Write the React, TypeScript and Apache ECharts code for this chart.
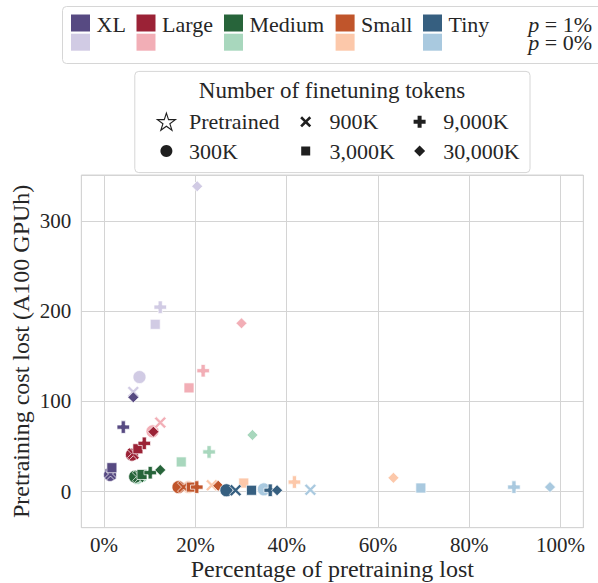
import React, { useEffect, useRef } from 'react';
import * as echarts from 'echarts';

const FONT = 'Liberation Serif';
const TEXT = '#262626';
const GRID = '#d4d4d4';

const MODELS = ['XL', 'Large', 'Medium', 'Small', 'Tiny'];
const DARK = ['#574a82', '#9b2236', '#27643a', '#c0552b', '#365f80'];
const LIGHT = ['#d1cbe4', '#f2aeb6', '#a8d7bd', '#fcc8aa', '#a9c9df'];
const TOKENS = ['300K', '900K', '3,000K', '9,000K', '30,000K'];
const TOKEN_LEGEND = ['Pretrained', '300K', '900K', '3,000K', '9,000K', '30,000K'];
const P_LABELS = ['1%', '0%'];

// Percentage of pretraining lost / pretraining cost lost, per token budget
// order: 300K, 900K, 3,000K, 9,000K, 30,000K
const XL_P1_PCT = [1.3, 1.4, 1.7, 4.2, 6.4];
const XL_P1_COST = [18.5, 19.5, 26.5, 71.5, 104.5];
const XL_P0_PCT = [7.75, 6.4, 11.2, 12.3, 20.4];
const XL_P0_COST = [127, 110.5, 185.5, 204.5, 338.5];

const LARGE_P1_PCT = [6.1, 6.4, 7.4, 8.8, 10.8];
const LARGE_P1_COST = [41, 42, 47.5, 53.5, 66.4];
const LARGE_P0_PCT = [10.6, 12.3, 18.6, 21.7, 30.1];
const LARGE_P0_COST = [66.8, 76.5, 115, 134, 186.6];

const MEDIUM_P1_PCT = [6.8, 7.5, 8.3, 10.1, 12.3];
const MEDIUM_P1_COST = [16.5, 16.5, 19, 21, 24];
const MEDIUM_P0_PCT = [7.2, 8.0, 16.9, 23.0, 32.5];
const MEDIUM_P0_COST = [15, 17, 32.9, 44, 62.8];

const SMALL_P1_PCT = [16.3, 17.4, 19.1, 20.3, 25.0];
const SMALL_P1_COST = [5, 5, 5, 5, 6.5];
const SMALL_P0_PCT = [18.5, 23.6, 30.6, 41.7, 63.4];
const SMALL_P0_COST = [5, 7, 9.5, 10.6, 15.3];

const TINY_P1_PCT = [26.8, 28.8, 32.3, 36.4, 37.9];
const TINY_P1_COST = [1.5, 1.5, 1.5, 1.5, 1.5];
const TINY_P0_PCT = [35.0, 45.2, 69.4, 89.8, 97.7];
const TINY_P0_COST = [2.5, 2, 4, 5, 5];

const P1_SETS = [
  [XL_P1_PCT, XL_P1_COST],
  [LARGE_P1_PCT, LARGE_P1_COST],
  [MEDIUM_P1_PCT, MEDIUM_P1_COST],
  [SMALL_P1_PCT, SMALL_P1_COST],
  [TINY_P1_PCT, TINY_P1_COST],
];
const P0_SETS = [
  [XL_P0_PCT, XL_P0_COST],
  [LARGE_P0_PCT, LARGE_P0_COST],
  [MEDIUM_P0_PCT, MEDIUM_P0_COST],
  [SMALL_P0_PCT, SMALL_P0_COST],
  [TINY_P0_PCT, TINY_P0_COST],
];

// unit shapes (0..6 box)
const X_PTS = [[0, 1], [1, 0], [3, 2], [5, 0], [6, 1], [4, 3], [6, 5], [5, 6], [3, 4], [1, 6], [0, 5], [2, 3]];
const PLUS_PTS = [[2, 0], [4, 0], [4, 2], [6, 2], [6, 4], [4, 4], [4, 6], [2, 6], [2, 4], [0, 4], [0, 2], [2, 2]];
const toPath = (pts: number[][]) => 'path://M' + pts.map((p) => p.join(',')).join('L') + 'Z';
const X_PATH = toPath(X_PTS);
const PLUS_PATH = toPath(PLUS_PTS);

const SYMBOLS = ['circle', X_PATH, 'rect', PLUS_PATH, 'diamond'];
const SIZES = [13, 12, 10, 12.5, 11];

const starPts = (cx: number, cy: number, r: number) => {
  const pts: number[][] = [];
  for (let k = 0; k < 10; k++) {
    const ang = (-90 + k * 36) * Math.PI / 180;
    const rr = k % 2 === 0 ? r : r * 0.382;
    pts.push([cx + rr * Math.cos(ang), cy + rr * Math.sin(ang)]);
  }
  return pts;
};
const boxPts = (pts: number[][], cx: number, cy: number, s: number) =>
  pts.map(([a, b]) => [cx + (a - 3) * s / 6, cy + (b - 3) * s / 6]);

function buildSeries() {
  const series: any[] = [];
  const mk = (sets: number[][][], colors: string[], p: string) => {
    sets.forEach(([pct, cost], i) => {
      series.push({
        type: 'scatter',
        name: MODELS[i] + ' p=' + p,
        data: pct.map((x, j) => ({
          value: [x, cost[j]],
          name: TOKENS[j],
          symbol: SYMBOLS[j],
          symbolSize: SIZES[j],
        })),
        itemStyle: { color: colors[i], borderColor: '#ffffff', borderWidth: 0.7, opacity: 1 },
        emphasis: { disabled: true },
      });
    });
  };
  mk(P0_SETS, LIGHT, P_LABELS[1]);
  mk(P1_SETS, DARK, P_LABELS[0]);
  return series;
}

function buildGraphic() {
  const els: any[] = [];
  const txt = (x: number, y: number, text: string, size: number, align = 'left') => ({
    type: 'text',
    x,
    y,
    style: {
      text,
      fontFamily: FONT,
      fontSize: size,
      fill: TEXT,
      textAlign: align,
      textVerticalAlign: 'middle',
      align,
      verticalAlign: 'middle',
    },
  });
  // model legend
  els.push({
    type: 'rect',
    shape: { x: 62.5, y: 6.5, width: 545, height: 57, r: 4 },
    style: { fill: '#ffffff', stroke: '#d6d6d6', lineWidth: 1 },
  });
  const PATCH_X = [71, 136.5, 224, 335.6, 423];
  MODELS.forEach((m, i) => {
    els.push({ type: 'rect', shape: { x: PATCH_X[i], y: 14.5, width: 19, height: 17 }, style: { fill: DARK[i] } });
    els.push({ type: 'rect', shape: { x: PATCH_X[i], y: 33.7, width: 19, height: 17 }, style: { fill: LIGHT[i] } });
    els.push(txt(PATCH_X[i] + 25.5, 24, m, 22));
  });
  P_LABELS.forEach((p, k) => {
    els.push({
      type: 'text',
      x: 592,
      y: k === 0 ? 24.7 : 42,
      style: {
        text: '{i|p} = ' + p,
        fontFamily: FONT,
        fontSize: 22,
        fill: TEXT,
        textAlign: 'right',
        textVerticalAlign: 'middle',
        align: 'right',
        verticalAlign: 'middle',
        rich: { i: { fontFamily: FONT, fontSize: 22, fontStyle: 'italic', fill: TEXT } },
      },
    });
  });
  // token legend
  els.push({
    type: 'rect',
    shape: { x: 134.8, y: 71.4, width: 395.2, height: 101.2, r: 4 },
    style: { fill: '#ffffff', stroke: '#d6d6d6', lineWidth: 1 },
  });
  els.push(txt(332, 90, 'Number of finetuning tokens', 23, 'center'));
  const MX = [166.4, 305.7, 419.6];
  const LX = [189, 329.4, 443.3];
  const RY = [121.8, 151];
  const MK = '#1f1f1f';
  TOKEN_LEGEND.forEach((t, k) => {
    const col = Math.floor(k / 2);
    const row = k % 2;
    const cx = MX[col];
    const cy = RY[row];
    if (k === 0) {
      els.push({ type: 'polygon', shape: { points: starPts(cx, cy + 0.8, 9.5) }, style: { fill: '#ffffff', stroke: MK, lineWidth: 1.1 } });
    } else if (k === 1) {
      els.push({ type: 'circle', shape: { cx, cy, r: 6 }, style: { fill: MK } });
    } else if (k === 2) {
      els.push({ type: 'polygon', shape: { points: boxPts(X_PTS, cx, cy, 11) }, style: { fill: MK } });
    } else if (k === 3) {
      els.push({ type: 'rect', shape: { x: cx - 4.5, y: cy - 4.5, width: 9, height: 9 }, style: { fill: MK } });
    } else if (k === 4) {
      els.push({ type: 'polygon', shape: { points: boxPts(PLUS_PTS, cx, cy, 12) }, style: { fill: MK } });
    } else {
      els.push({ type: 'polygon', shape: { points: [[cx, cy - 5.5], [cx + 5.5, cy], [cx, cy + 5.5], [cx - 5.5, cy]] }, style: { fill: MK } });
    }
    els.push(txt(LX[col], cy, t, 22));
  });
  return els;
}

export default function App() {
  const ref = useRef<HTMLDivElement>(null);
  useEffect(() => {
    if (!ref.current) return;
    const chart = echarts.init(ref.current, undefined, { renderer: 'svg' });
    chart.setOption({
      animation: false,
      backgroundColor: '#ffffff',
      textStyle: { fontFamily: FONT },
      grid: {
        left: 81.3,
        right: 14.7,
        top: 175,
        bottom: 55.3,
        show: true,
        borderColor: GRID,
        borderWidth: 1,
        backgroundColor: 'transparent',
        outerBoundsMode: 'none',
      },
      xAxis: {
        type: 'value',
        min: -5,
        max: 105,
        splitNumber: 5,
        axisLine: { show: false },
        axisTick: { show: false },
        splitLine: { show: true, lineStyle: { color: GRID, width: 1 } },
        axisLabel: {
          fontFamily: FONT,
          fontSize: 21,
          color: TEXT,
          margin: 7,
          formatter: (v: number) => (Math.abs(v % 20) < 1e-6 ? Math.round(v) + '%' : ''),
        },
        name: 'Percentage of pretraining lost',
        nameLocation: 'middle',
        nameGap: 29,
        nameMoveOverlap: false,
        nameTextStyle: { fontFamily: FONT, fontSize: 24, color: TEXT },
      },
      yAxis: {
        type: 'value',
        min: -40,
        max: 351,
        splitNumber: 5,
        axisLine: { show: false },
        axisTick: { show: false },
        splitLine: { show: true, lineStyle: { color: GRID, width: 1 } },
        axisLabel: {
          fontFamily: FONT,
          fontSize: 21,
          color: TEXT,
          margin: 10,
          formatter: (v: number) => (Math.abs(v % 100) < 1e-6 ? String(Math.round(v)) : ''),
        },
        name: 'Pretraining cost lost (A100 GPUh)',
        nameLocation: 'middle',
        nameGap: 48,
        nameMoveOverlap: false,
        nameTextStyle: { fontFamily: FONT, fontSize: 24, color: TEXT },
      },
      series: buildSeries(),
      graphic: buildGraphic(),
    });
    return () => chart.dispose();
  }, []);
  return (
    <div
      ref={ref}
      style={{ position: 'fixed', left: 0, top: 0, width: 598, height: 583, background: '#fff' }}
    />
  );
}
